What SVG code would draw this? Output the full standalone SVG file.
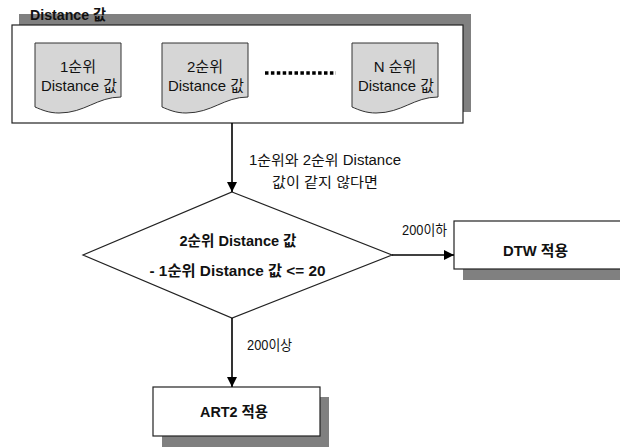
<svg xmlns="http://www.w3.org/2000/svg" width="620" height="448" viewBox="0 0 620 448">
  <style>
    text { font-family: "Liberation Sans", "Noto Sans CJK KR", sans-serif; fill: #111; }
    .doc-t { font-size: 15px; text-anchor: middle; }
    .lbl { font-size: 14px; }
    .bold { font-size: 15px; font-weight: bold; text-anchor: middle; }
    .shadow { fill: #808080; }
    .box { fill: #fff; stroke: #222; stroke-width: 1.2; }
    .doc { fill: #d6d6d6; stroke: #333; stroke-width: 1; }
    .edge { stroke: #000; stroke-width: 1.6; fill: none; }
  </style>
  <defs>
    <marker id="arrow" viewBox="0 0 10 10" refX="10" refY="5" markerWidth="10" markerHeight="10" markerUnits="userSpaceOnUse" orient="auto">
      <path d="M0,0 L10,5 L0,10 Z" fill="#000"/>
    </marker>
    <path id="docShape" d="M0,0 H86 V54 C62,54 50,70 24,70 C14,70 7,67 0,64 Z"/>
  </defs>

  <!-- container of ranked distance values -->
  <g id="distance-group">
    <rect class="shadow" x="19" y="14" width="452" height="98"/>
    <rect class="box" x="12" y="25" width="451" height="98"/>
    <text x="30" y="20" textLength="76" lengthAdjust="spacingAndGlyphs" style="font-size:15px;font-weight:bold;">Distance 값</text>
  </g>

  <g id="doc-1">
    <use href="#docShape" class="doc" x="35" y="43"/>
    <text class="doc-t" x="78" y="72">1순위</text>
    <text class="doc-t" x="79" y="90.5" textLength="76" lengthAdjust="spacingAndGlyphs">Distance 값</text>
  </g>

  <g id="doc-2">
    <use href="#docShape" class="doc" x="162" y="43"/>
    <text class="doc-t" x="205" y="72">2순위</text>
    <text class="doc-t" x="206" y="90.5" textLength="76" lengthAdjust="spacingAndGlyphs">Distance 값</text>
  </g>

  <g id="ellipsis">
    <line x1="265" y1="73" x2="336" y2="73" stroke="#000" stroke-width="3.5" stroke-dasharray="3.5 2.4"/>
  </g>

  <g id="doc-n">
    <use href="#docShape" class="doc" x="352" y="43"/>
    <text class="doc-t" x="395" y="72">N 순위</text>
    <text class="doc-t" x="396" y="90.5" textLength="76" lengthAdjust="spacingAndGlyphs">Distance 값</text>
  </g>

  <!-- decision -->
  <g id="decision">
    <polygon points="232,192 392,255 232,318 83,255" fill="#fff" stroke="#222" stroke-width="1.2"/>
    <text class="bold" x="238" y="245.5" textLength="117" lengthAdjust="spacingAndGlyphs">2순위 Distance 값</text>
    <text class="bold" x="237.5" y="275.5" textLength="176" lengthAdjust="spacingAndGlyphs">- 1순위 Distance 값 &lt;= 20</text>
  </g>

  <g id="dtw">
    <rect class="shadow" x="463" y="232" width="170" height="48"/>
    <rect class="box" x="454" y="221" width="180" height="48"/>
    <text class="bold" x="535.5" y="255.5" textLength="65" lengthAdjust="spacingAndGlyphs">DTW 적용</text>
  </g>

  <g id="art2">
    <rect class="shadow" x="162" y="397" width="167" height="50"/>
    <rect class="box" x="153" y="387" width="167" height="49"/>
    <text class="bold" x="234" y="416.5" textLength="68" lengthAdjust="spacingAndGlyphs">ART2 적용</text>
  </g>

  <!-- connectors -->
  <g id="connectors">
    <line class="edge" x1="232" y1="123" x2="232" y2="192" marker-end="url(#arrow)"/>
    <line class="edge" x1="392" y1="255" x2="454" y2="255" marker-end="url(#arrow)"/>
    <line class="edge" x1="232" y1="318" x2="232" y2="387" marker-end="url(#arrow)"/>
    <text class="lbl" x="249" y="165" textLength="152" lengthAdjust="spacingAndGlyphs">1순위와 2순위 Distance</text>
    <text class="lbl" x="272" y="187" textLength="106" lengthAdjust="spacingAndGlyphs">값이 같지 않다면</text>
    <text class="lbl" x="402" y="234.5" textLength="45" lengthAdjust="spacingAndGlyphs">200이하</text>
    <text class="lbl" x="247" y="350" textLength="45" lengthAdjust="spacingAndGlyphs">200이상</text>
  </g>
</svg>
